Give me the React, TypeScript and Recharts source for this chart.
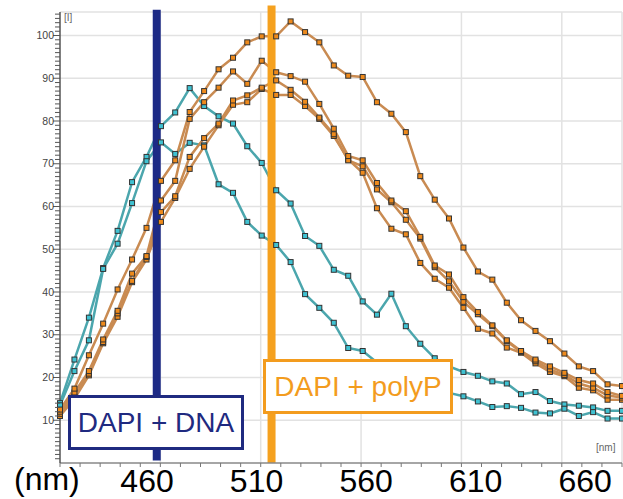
import { LineChart, Line, XAxis, YAxis, ReferenceLine } from "recharts";

// wavelength of every sample (nm)
const wavelengths = [
  410, 417.2, 424.4, 431.5, 438.7, 445.9, 453.1, 460.3, 467.4, 474.6,
  481.8, 489, 496.2, 503.3, 510.5, 517.7, 524.9, 532.1, 539.2, 546.4,
  553.6, 560.8, 567.9, 575.1, 582.3, 589.5, 596.7, 603.8, 611, 618.2,
  625.4, 632.6, 639.7, 646.9, 654.1, 661.3, 668.5, 675.6, 682.8, 690,
];

// DAPI + DNA (teal)
const dnaA = [
  14, 24.2, 34, 45.6, 54.3, 65.7, 71.6, 78.8, 82, 87.7,
  83.5, 81.1, 79.4, 74.1, 70.2, 63.8, 60.7, 53.1, 50.8, 45.2,
  43.8, 37.8, 34.7, 39.6, 32, 27.9, 24.5, 22.6, 21.3, 20.4,
  19.1, 18.6, 16.1, 16.6, 14.5, 13.7, 13.4, 13, 12.2, 12.2,
];
const dnaB = [
  13.5, 21.5, 28.7, 45.4, 51.3, 60.8, 70.6, 75, 72.3, 74.9,
  74.3, 65.2, 63.2, 56.4, 53.2, 51, 47, 39.5, 36.3, 32.8,
  26.9, 26.2, 23.5, 21.8, 20.2, 18.8, 17.5, 16.4, 15.6, 14.4,
  13.1, 13.3, 12.9, 11.8, 11.6, 12.7, 11, 11.9, 10.4, 10.4,
];

// DAPI + polyP (orange)
const polyA = [
  12.5, 17.4, 25.2, 32.6, 40.6, 47.6, 55, 66, 70.8, 82.1,
  87, 92.1, 94.8, 98.4, 99.8, 99.8, 103.3, 100.8, 98.4, 93,
  90.6, 90.3, 84.4, 81.7, 77.4, 67.1, 61.6, 57.2, 50.4, 44.8,
  42.9, 37.5, 33.4, 30.9, 28.5, 25.6, 22.6, 21.5, 18.4, 18,
];
const polyB = [
  12, 16.5, 21.5, 28.9, 35.6, 44.3, 48.4, 61.4, 66, 80.5,
  84.4, 87.8, 91.6, 88.7, 94.1, 91.4, 90.5, 89.2, 84, 78.2,
  71.8, 70.8, 65.5, 61.4, 58.9, 52.9, 46.2, 44.1, 38.8, 35.3,
  32.2, 28.7, 26.2, 24.2, 22.6, 21.1, 19.4, 18.6, 16.6, 15.7,
];
const polyC = [
  11.5, 15.5, 20.9, 28.3, 35, 42.6, 48.2, 58.7, 62.4, 71.6,
  76, 79.4, 84.8, 86, 87.8, 89.5, 87.3, 84.5, 80.8, 76.9,
  70.8, 69.4, 64, 61, 56.9, 52.5, 45.8, 42.5, 37.7, 34.8,
  32, 28.5, 26, 23.8, 21.9, 20.6, 18.6, 17.6, 15.8, 15.3,
];
const polyD = [
  11, 15, 20.5, 28, 34.2, 42.3, 47.6, 56.4, 62, 68.8,
  74, 79, 83.8, 84.4, 87.5, 86.1, 86.1, 83.5, 80.5, 76.5,
  71, 67.9, 59.6, 54.8, 53.5, 46.8, 43.1, 41, 36.3, 31.4,
  30.3, 27, 25.8, 23.3, 21.3, 20.3, 17.6, 17, 14.8, 14.8,
];

const xTicks = [
  410, 420, 430, 440, 450, 460, 470, 480, 490, 500, 510, 520, 530, 540, 550,
  560, 570, 580, 590, 600, 610, 620, 630, 640, 650, 660, 670, 680, 690,
];
const xLabels = [460, 510, 560, 610, 660];
const gridX = [460, 510, 560, 610, 660, 690];
const gridY = [10, 20, 30, 40, 50, 60, 70, 80, 90, 100];
const yTicks = Array.from({ length: 105 }, (_, i) => i + 1);

const dnaMarker = 458.2;
const polyMarker = 515.4;

const data = wavelengths.map((w, i) => ({
  w,
  dnaA: dnaA[i],
  dnaB: dnaB[i],
  polyA: polyA[i],
  polyB: polyB[i],
  polyC: polyC[i],
  polyD: polyD[i],
}));

const FONT = "'Liberation Sans', Arial, sans-serif";
const TEAL_LINE = "#4ba6ad";
const TEAL_DOT = "#3fc2d2";
const ORANGE_LINE = "#c98b52";
const ORANGE_DOT = "#ee8a1c";

function squareDot(fill: string) {
  return (p: any) => (
    <rect
      key={`d-${p.dataKey}-${p.index}`}
      x={p.cx - 2.5}
      y={p.cy - 2.5}
      width={5}
      height={5}
      fill={fill}
      stroke="#333"
      strokeWidth={1}
    />
  );
}

const YTick = (props: any) => {
  const { x, y, payload } = props;
  const v = payload.value;
  const major = v % 10 === 0;
  return (
    <g>
      <line x1={x - (major ? 7 : 5)} x2={x} y1={y} y2={y} stroke="#555" strokeWidth={1} />
      {major && (
        <text x={x - 6} y={y} dy={3.5} textAnchor="end" fontSize={10.5} fill="#444" fontFamily={FONT}>
          {v}
        </text>
      )}
    </g>
  );
};

const XTick = (props: any) => {
  const { x, y, payload } = props;
  const v = payload.value;
  const showLabel = xLabels.includes(v);
  return (
    <g>
      <line x1={x} x2={x} y1={y} y2={y + 4} stroke="#777" strokeWidth={1} />
      {showLabel && (
        <text x={x * 1.0915 - 28} y={y + 29} textAnchor="middle" fontSize={32} fill="#000" fontFamily={FONT}>
          {v}
        </text>
      )}
    </g>
  );
};

export default function App() {
  const series = [
    { key: "dnaA", line: TEAL_LINE, dot: TEAL_DOT },
    { key: "dnaB", line: TEAL_LINE, dot: TEAL_DOT },
    { key: "polyD", line: ORANGE_LINE, dot: ORANGE_DOT },
    { key: "polyC", line: ORANGE_LINE, dot: ORANGE_DOT },
    { key: "polyB", line: ORANGE_LINE, dot: ORANGE_DOT },
    { key: "polyA", line: ORANGE_LINE, dot: ORANGE_DOT },
  ];

  return (
    <div style={{ position: "absolute", left: 0, top: 0, width: 623, height: 499, background: "#fff", fontFamily: FONT }}>
      <LineChart width={623} height={499} data={data} margin={{ top: 12, right: 1, left: 0, bottom: 0 }}>
        <XAxis
          dataKey="w"
          type="number"
          domain={[410, 690]}
          ticks={xTicks}
          interval={0}
          tick={<XTick />}
          tickSize={0}
          tickMargin={0}
          height={36}
          axisLine={{ stroke: "#888", strokeWidth: 1.5 }}
          tickLine={false}
        />
        <YAxis
          type="number"
          domain={[0, 105.5]}
          ticks={yTicks}
          interval={0}
          tick={<YTick />}
          tickSize={0}
          tickMargin={0}
          width={60}
          axisLine={{ stroke: "#555", strokeWidth: 1.5 }}
          tickLine={false}
        />
        {gridY.map((g) => (
          <ReferenceLine key={`gy-${g}`} y={g} stroke="#e2e2e2" strokeWidth={1.5} />
        ))}
        <ReferenceLine y={105.5} stroke="#e2e2e2" strokeWidth={1.5} />
        {gridX.map((g) => (
          <ReferenceLine key={`gx-${g}`} x={g} stroke="#e2e2e2" strokeWidth={1.5} />
        ))}
        {series.map((s) => (
          <Line
            key={s.key}
            dataKey={s.key}
            type="linear"
            stroke={s.line}
            strokeWidth={2.5}
            dot={squareDot(s.dot)}
            activeDot={false}
            isAnimationActive={false}
          />
        ))}
        <ReferenceLine
          segment={[{ x: dnaMarker, y: 0.6 }, { x: dnaMarker, y: 106 }]}
          stroke="#1d2a86"
          strokeWidth={8}
          ifOverflow="visible"
        />
        <ReferenceLine
          segment={[{ x: polyMarker, y: 0 }, { x: polyMarker, y: 107 }]}
          stroke="#f5a11f"
          strokeWidth={8}
          ifOverflow="visible"
        />
      </LineChart>

      <div style={{ position: "absolute", left: 64, top: 12, fontSize: 10, color: "#666" }}>[I]</div>
      <div style={{ position: "absolute", left: 596, top: 442, fontSize: 10, color: "#666" }}>[nm]</div>
      <div style={{ position: "absolute", left: 14, top: 461, fontSize: 32, color: "#000", lineHeight: "36px" }}>(nm)</div>

      <div
        style={{
          position: "absolute",
          left: 68,
          top: 395,
          width: 176,
          height: 55,
          boxSizing: "border-box",
          border: "3.5px solid #1f2a80",
          background: "#fff",
          color: "#1f2a80",
          fontSize: 28,
          display: "flex",
          alignItems: "center",
          justifyContent: "center",
        }}
      >
        DAPI + DNA
      </div>
      <div
        style={{
          position: "absolute",
          left: 263,
          top: 359,
          width: 190,
          height: 55,
          boxSizing: "border-box",
          border: "3.5px solid #f39c1e",
          background: "#fff",
          color: "#f39c1e",
          fontSize: 28,
          display: "flex",
          alignItems: "center",
          justifyContent: "center",
        }}
      >
        DAPI + polyP
      </div>
    </div>
  );
}
